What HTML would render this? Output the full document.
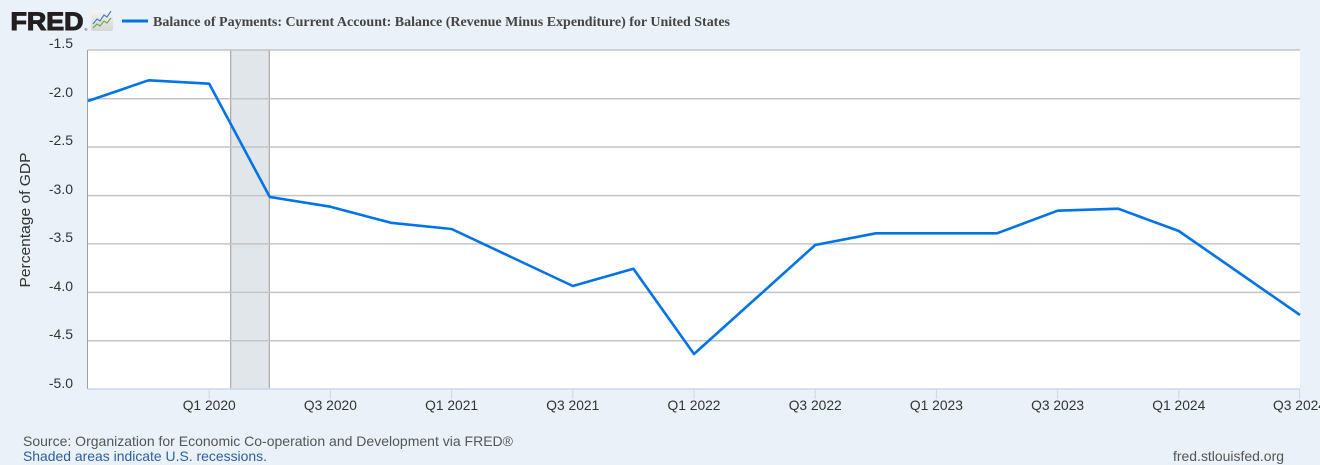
<!DOCTYPE html>
<html>
<head>
<meta charset="utf-8">
<style>
html,body{margin:0;padding:0;}
body{width:1320px;height:465px;overflow:hidden;background:#eaf1f9;}
svg{display:block;}
</style>
</head>
<body>
<svg width="1320" height="465" viewBox="0 0 1320 465" xmlns="http://www.w3.org/2000/svg">
  <rect x="0" y="0" width="1320" height="465" fill="#eaf1f9"/>
  <!-- FRED logo -->
  <text x="10.5" y="30" font-family="Liberation Sans, Arial, sans-serif" font-weight="bold" font-size="25" fill="#231f20" stroke="#231f20" stroke-width="1.1" textLength="73" lengthAdjust="spacingAndGlyphs">FRED</text>
  <text x="84.5" y="31" font-family="Liberation Sans, Arial, sans-serif" font-size="4" fill="#231f20">®</text>
  <defs>
    <linearGradient id="ig" x1="0" y1="0" x2="0" y2="1">
      <stop offset="0" stop-color="#f4f4f4"/>
      <stop offset="1" stop-color="#d6d6d6"/>
    </linearGradient>
  </defs>
  <rect x="91" y="10" width="22" height="21" rx="2" fill="url(#ig)"/>
  <polyline points="93,24 97,19 100,21 104,15 107,17 111,11" fill="none" stroke="#4a7fc0" stroke-width="1.2"/>
  <polyline points="93,28 97,24 100,26 104,21 107,23 111,18" fill="none" stroke="#6aa84f" stroke-width="1.2"/>
  <!-- legend -->
  <line x1="122" y1="21" x2="148" y2="21" stroke="#0073e6" stroke-width="3"/>
  <text x="153" y="26" font-family="Liberation Serif, Times New Roman, serif" font-weight="bold" font-size="14" fill="#444" textLength="577" lengthAdjust="spacingAndGlyphs">Balance of Payments: Current Account: Balance (Revenue Minus Expenditure) for United States</text>

  <!-- plot background -->
  <rect x="88" y="50" width="1212" height="339" fill="#ffffff"/>
  <!-- recession band -->
  <rect x="230.7" y="50" width="38.6" height="339" fill="#e1e6eb"/>
  <line x1="230.7" y1="50" x2="230.7" y2="389" stroke="#999" stroke-width="1"/>
  <line x1="269.3" y1="50" x2="269.3" y2="389" stroke="#999" stroke-width="1"/>

  <!-- gridlines -->
  <g stroke="#c4c4c4" stroke-width="1.5">
    <line x1="88" y1="50" x2="1300" y2="50"/>
    <line x1="88" y1="98.7" x2="1300" y2="98.7"/>
    <line x1="88" y1="147" x2="1300" y2="147"/>
    <line x1="88" y1="195.6" x2="1300" y2="195.6"/>
    <line x1="88" y1="243.9" x2="1300" y2="243.9"/>
    <line x1="88" y1="292.4" x2="1300" y2="292.4"/>
    <line x1="88" y1="340.7" x2="1300" y2="340.7"/>
  </g>
  <!-- axes -->
  <line x1="87.5" y1="50" x2="87.5" y2="389" stroke="#a0a0a0" stroke-width="1"/>
  <line x1="87.5" y1="389" x2="1300" y2="389" stroke="#ccd6eb" stroke-width="1.5"/>
  <g stroke="#ccd6eb" stroke-width="1">
    <line x1="209.2" y1="389" x2="209.2" y2="399"/>
    <line x1="330.4" y1="389" x2="330.4" y2="399"/>
    <line x1="451.6" y1="389" x2="451.6" y2="399"/>
    <line x1="572.8" y1="389" x2="572.8" y2="399"/>
    <line x1="694" y1="389" x2="694" y2="399"/>
    <line x1="815.2" y1="389" x2="815.2" y2="399"/>
    <line x1="936.4" y1="389" x2="936.4" y2="399"/>
    <line x1="1057.6" y1="389" x2="1057.6" y2="399"/>
    <line x1="1178.8" y1="389" x2="1178.8" y2="399"/>
    <line x1="1299.5" y1="389" x2="1299.5" y2="399"/>
  </g>

  <!-- series -->
  <polyline fill="none" stroke="#0073e6" stroke-width="2.6" stroke-linejoin="round"
    points="88,101 148.6,80.3 209.2,83.7 269.8,197 330.4,206.7 391,222.8 451.6,229 512.2,257.5 572.8,286 633.4,268.7 694,354 754.6,299.5 815.2,245 875.8,233.3 936.4,233.3 997,233.3 1057.6,210.7 1118.2,208.7 1178.8,231 1239.4,273 1300,315"/>

  <!-- y labels -->
  <g font-family="Liberation Sans, Arial, sans-serif" font-size="14" fill="#333" text-anchor="end">
    <text x="73" y="48">-1.5</text>
    <text x="73" y="97">-2.0</text>
    <text x="73" y="145">-2.5</text>
    <text x="73" y="194">-3.0</text>
    <text x="73" y="242">-3.5</text>
    <text x="73" y="291">-4.0</text>
    <text x="73" y="339">-4.5</text>
    <text x="73" y="388">-5.0</text>
  </g>
  <text transform="translate(30,220) rotate(-90)" font-family="Liberation Sans, Arial, sans-serif" font-size="15" fill="#333" text-anchor="middle" textLength="135" lengthAdjust="spacingAndGlyphs">Percentage of GDP</text>

  <!-- x labels -->
  <g font-family="Liberation Sans, Arial, sans-serif" font-size="14" fill="#333" text-anchor="middle">
    <text x="209.2" y="410" textLength="53" lengthAdjust="spacingAndGlyphs">Q1 2020</text>
    <text x="330.4" y="410" textLength="53" lengthAdjust="spacingAndGlyphs">Q3 2020</text>
    <text x="451.6" y="410" textLength="53" lengthAdjust="spacingAndGlyphs">Q1 2021</text>
    <text x="572.8" y="410" textLength="53" lengthAdjust="spacingAndGlyphs">Q3 2021</text>
    <text x="694" y="410" textLength="53" lengthAdjust="spacingAndGlyphs">Q1 2022</text>
    <text x="815.2" y="410" textLength="53" lengthAdjust="spacingAndGlyphs">Q3 2022</text>
    <text x="936.4" y="410" textLength="53" lengthAdjust="spacingAndGlyphs">Q1 2023</text>
    <text x="1057.6" y="410" textLength="53" lengthAdjust="spacingAndGlyphs">Q3 2023</text>
    <text x="1178.8" y="410" textLength="53" lengthAdjust="spacingAndGlyphs">Q1 2024</text>
    <text x="1299.5" y="410" textLength="53" lengthAdjust="spacingAndGlyphs">Q3 2024</text>
  </g>

  <!-- footer -->
  <text x="23" y="446" font-family="Liberation Sans, Arial, sans-serif" font-size="14" fill="#555" textLength="490" lengthAdjust="spacingAndGlyphs">Source: Organization for Economic Co-operation and Development via FRED®</text>
  <text x="23" y="461" font-family="Liberation Sans, Arial, sans-serif" font-size="14" fill="#2d5fa3" textLength="244" lengthAdjust="spacingAndGlyphs">Shaded areas indicate U.S. recessions.</text>
  <text x="1173" y="461" font-family="Liberation Sans, Arial, sans-serif" font-size="14" fill="#555" textLength="111" lengthAdjust="spacingAndGlyphs">fred.stlouisfed.org</text>
</svg>
</body>
</html>
